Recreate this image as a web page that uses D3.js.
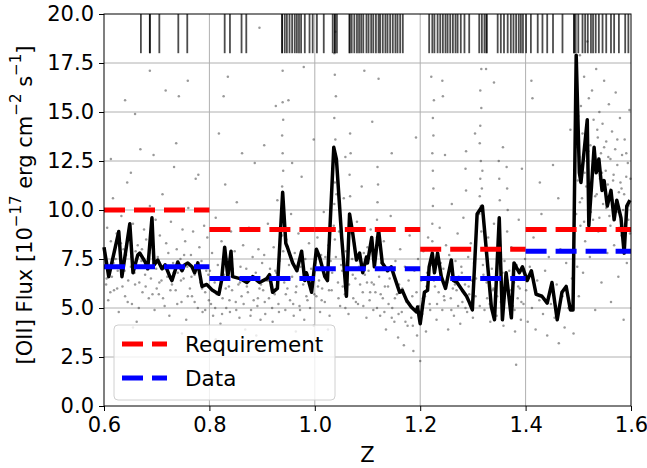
<!DOCTYPE html>
<html>
<head>
<meta charset="utf-8">
<script src="https://cdn.jsdelivr.net/npm/d3@7"></script>
<style>
  body { margin: 0; background: #fff; }
  text { font-family: "DejaVu Sans", sans-serif; fill: #000; }
</style>
</head>
<body>
<div id="graph"></div>
<script>
var xTicks = [0.6, 0.8, 1.0, 1.2, 1.4, 1.6]
var yTicks = [0, 2.5, 5, 7.5, 10, 12.5, 15, 17.5, 20]

var binEdges = [0.6, 0.8, 1.0, 1.2, 1.4, 1.6]
var requirement = [10.0, 9.0, 9.0, 8.0, 9.0]
var dataLevel = [7.1, 6.5, 7.0, 6.5, 7.9]

// running median of the flux
var medianLine = [[0.600,8.1],[0.609,6.6],[0.628,8.9],[0.634,6.6],[0.649,9.3],[0.655,6.8],[0.664,7.7],[0.668,7.8],[0.678,7.35],[0.683,7.0],[0.691,9.6],[0.695,7.2],[0.702,7.45],[0.710,7.0],[0.716,7.2],[0.725,6.6],[0.729,6.4],[0.740,7.35],[0.748,6.9],[0.753,7.2],[0.759,7.3],[0.767,7.1],[0.772,6.8],[0.778,7.3],[0.786,6.1],[0.795,6.2],[0.806,5.9],[0.818,5.7],[0.823,6.4],[0.829,8.1],[0.835,6.6],[0.841,7.9],[0.844,6.6],[0.858,6.5],[0.871,6.3],[0.882,6.6],[0.895,6.3],[0.909,6.5],[0.914,6.7],[0.920,5.8],[0.929,6.0],[0.939,10.9],[0.945,8.3],[0.948,8.1],[0.958,7.3],[0.966,6.9],[0.975,7.9],[0.981,6.4],[0.984,6.8],[0.994,5.8],[1.003,8.0],[1.009,7.6],[1.019,6.6],[1.024,6.4],[1.036,13.2],[1.041,12.6],[1.051,8.6],[1.060,5.6],[1.066,9.8],[1.072,8.8],[1.079,7.45],[1.085,7.8],[1.091,6.8],[1.098,7.6],[1.100,7.3],[1.108,8.6],[1.113,7.1],[1.121,9.0],[1.128,7.3],[1.138,6.9],[1.145,7.1],[1.151,6.6],[1.161,5.8],[1.166,5.9],[1.174,5.4],[1.183,5.05],[1.193,4.8],[1.195,5.05],[1.200,4.2],[1.208,5.8],[1.214,5.9],[1.217,7.1],[1.223,7.8],[1.227,6.8],[1.233,7.8],[1.240,6.6],[1.248,6.0],[1.259,7.45],[1.263,6.4],[1.270,6.3],[1.280,5.9],[1.288,5.6],[1.293,5.3],[1.299,4.9],[1.308,9.8],[1.318,10.2],[1.325,8.1],[1.335,5.05],[1.341,4.4],[1.350,9.6],[1.356,4.4],[1.363,6.8],[1.373,4.5],[1.378,7.3],[1.388,6.8],[1.394,7.1],[1.403,6.4],[1.411,6.9],[1.420,5.7],[1.431,5.6],[1.441,5.25],[1.450,6.3],[1.460,4.4],[1.469,5.8],[1.477,6.1],[1.485,4.9],[1.490,4.9],[1.496,17.9],[1.502,11.9],[1.505,11.4],[1.517,14.6],[1.520,9.2],[1.530,13.2],[1.534,11.9],[1.539,12.6],[1.545,11.0],[1.549,11.5],[1.555,10.2],[1.562,11.0],[1.568,9.5],[1.573,10.5],[1.581,9.6],[1.587,7.8],[1.592,10.2],[1.598,10.5]]

// redshifts of the individual spectra (rug along the top)
var rugZ = [0.670,0.687,0.687,0.705,0.741,0.758,0.829,0.839,0.861,0.870,0.938,0.938,0.943,0.947,0.952,0.957,0.962,0.966,0.970,0.974,0.981,0.990,0.996,1.004,1.017,1.034,1.038,1.038,1.042,1.066,1.066,1.070,1.075,1.080,1.084,1.088,1.092,1.098,1.102,1.107,1.111,1.116,1.121,1.124,1.129,1.134,1.138,1.143,1.148,1.153,1.157,1.162,1.167,1.217,1.223,1.227,1.233,1.238,1.243,1.248,1.252,1.257,1.262,1.267,1.271,1.277,1.284,1.293,1.312,1.317,1.322,1.326,1.326,1.347,1.353,1.359,1.366,1.372,1.377,1.382,1.387,1.391,1.395,1.401,1.410,1.423,1.432,1.441,1.452,1.470,1.492,1.492,1.495,1.500,1.508,1.513,1.518,1.524,1.528,1.533,1.539,1.546,1.553,1.562,1.568,1.577,1.589,1.595]

// individual emission line fluxes, grouped by redshift range
var points06 = [[0.602,7.8],[0.604,6.2],[0.606,9.1],[0.608,5.4],[0.611,7.0],[0.613,8.4],[0.615,6.6],[0.617,10.6],[0.619,5.9],[0.622,7.5],[0.624,8.8],[0.626,6.9],[0.628,4.8],[0.631,7.2],[0.633,9.7],[0.635,6.1],[0.637,8.0],[0.640,5.6],[0.642,7.7],[0.644,11.4],[0.646,6.4],[0.649,8.6],[0.651,7.1],[0.653,5.2],[0.655,9.3],[0.658,6.8],[0.660,7.9],[0.662,4.3],[0.664,8.2],[0.667,6.3],[0.669,13.1],[0.671,7.4],[0.673,5.8],[0.676,9.0],[0.678,6.7],[0.680,8.5],[0.682,7.0],[0.685,5.5],[0.687,10.2],[0.689,6.5],[0.691,8.1],[0.694,7.3],[0.696,4.9],[0.698,9.5],[0.700,6.0]]
var points07 = [[0.702,7.6],[0.704,5.7],[0.706,8.7],[0.709,6.4],[0.711,10.8],[0.713,7.0],[0.715,5.1],[0.718,8.3],[0.720,6.6],[0.722,7.8],[0.724,4.6],[0.727,9.4],[0.729,6.2],[0.731,7.3],[0.733,12.2],[0.736,5.9],[0.738,8.0],[0.740,6.8],[0.742,15.8],[0.745,7.5],[0.747,5.3],[0.749,9.0],[0.751,6.5],[0.754,8.4],[0.756,4.4],[0.758,7.1],[0.760,10.1],[0.763,6.0],[0.765,7.7],[0.767,5.6],[0.769,8.9],[0.772,6.7],[0.774,11.6],[0.776,7.2],[0.778,5.0],[0.781,8.1],[0.783,6.3],[0.785,7.4],[0.787,4.8],[0.790,9.2],[0.792,5.8],[0.794,6.9],[0.796,8.6],[0.799,5.4]]
var points08 = [[0.801,6.9],[0.803,5.2],[0.805,7.8],[0.807,4.6],[0.810,6.3],[0.812,9.6],[0.814,5.7],[0.816,7.2],[0.819,6.0],[0.821,4.2],[0.823,8.4],[0.825,5.5],[0.828,6.7],[0.830,11.3],[0.832,5.0],[0.834,7.5],[0.837,6.1],[0.839,4.8],[0.841,8.9],[0.843,5.9],[0.846,6.6],[0.848,7.9],[0.850,5.3],[0.852,10.4],[0.855,6.2],[0.857,4.5],[0.859,7.1],[0.861,5.6],[0.864,8.2],[0.866,6.4],[0.868,3.9],[0.870,7.0],[0.873,5.8],[0.875,9.1],[0.877,6.5],[0.879,4.9],[0.882,7.6],[0.884,5.4],[0.886,12.4],[0.888,6.8],[0.891,5.1],[0.893,8.0],[0.895,6.0],[0.897,4.4],[0.900,7.3]]
var points09 = [[0.902,5.9],[0.904,7.7],[0.906,4.7],[0.909,6.4],[0.911,9.3],[0.913,5.5],[0.915,7.0],[0.918,6.1],[0.920,4.3],[0.922,8.1],[0.924,5.7],[0.927,6.8],[0.929,10.5],[0.931,5.2],[0.933,7.4],[0.938,9.5],[0.939,10.4],[0.938,11.2],[0.940,12.0],[0.939,12.9],[0.938,13.8],[0.940,14.6],[0.939,15.5],[0.938,8.7],[0.940,7.9],[0.942,6.3],[0.944,4.9],[0.946,8.5],[0.948,6.0],[0.951,7.2],[0.953,5.4],[0.955,9.8],[0.957,6.6],[0.960,4.6],[0.962,7.8],[0.964,5.8],[0.966,6.9],[0.969,8.8],[0.971,5.1],[0.973,7.1],[0.975,11.7],[0.978,6.2],[0.980,4.4],[0.982,7.5],[0.984,5.6],[0.987,6.7],[0.989,8.3],[0.991,5.0],[0.993,7.0],[0.996,6.1],[0.998,4.1]]
var points10 = [[1.001,7.3],[1.003,5.6],[1.005,8.6],[1.008,6.4],[1.010,4.8],[1.012,7.7],[1.014,6.0],[1.017,9.9],[1.019,5.3],[1.021,7.0],[1.023,6.6],[1.026,8.2],[1.028,4.6],[1.030,7.4],[1.032,5.9],[1.036,9.2],[1.037,10.3],[1.038,11.4],[1.036,12.5],[1.039,13.6],[1.037,14.7],[1.040,15.8],[1.038,16.9],[1.037,18.0],[1.039,19.1],[1.038,8.5],[1.040,7.6],[1.041,10.8],[1.036,13.1],[1.044,6.3],[1.046,8.9],[1.048,5.1],[1.050,7.2],[1.053,6.1],[1.055,10.6],[1.057,5.7],[1.059,7.9],[1.062,6.8],[1.064,4.7],[1.066,9.6],[1.067,10.7],[1.066,11.8],[1.068,12.9],[1.067,13.9],[1.066,8.8],[1.071,7.5],[1.073,5.5],[1.075,8.3],[1.077,6.5],[1.080,9.4],[1.082,5.2],[1.084,7.1],[1.086,6.2],[1.089,11.2],[1.091,5.8],[1.093,7.8],[1.095,6.7],[1.098,4.5],[1.100,8.1]]
var points11 = [[1.102,6.9],[1.104,5.4],[1.106,9.0],[1.108,6.3],[1.111,4.9],[1.113,7.6],[1.115,5.8],[1.118,9.5],[1.119,10.4],[1.120,11.3],[1.119,12.2],[1.118,8.6],[1.122,6.6],[1.124,4.6],[1.126,7.3],[1.129,5.5],[1.131,8.4],[1.133,6.1],[1.135,3.9],[1.138,7.0],[1.140,5.2],[1.142,6.5],[1.144,9.7],[1.147,5.0],[1.149,6.8],[1.151,4.3],[1.153,7.4],[1.156,5.7],[1.158,3.5],[1.160,6.2],[1.162,8.0],[1.165,4.8],[1.167,5.9],[1.169,3.1],[1.171,7.1],[1.174,5.3],[1.176,4.1],[1.178,6.4],[1.180,8.7],[1.183,4.5],[1.185,5.6],[1.187,2.8],[1.189,6.9],[1.192,4.9],[1.194,3.6],[1.196,7.5],[1.198,5.1],[1.200,2.3]]
var points12 = [[1.202,6.4],[1.204,4.7],[1.206,7.9],[1.209,5.6],[1.211,3.8],[1.213,6.8],[1.215,8.6],[1.218,5.2],[1.220,7.2],[1.223,9.3],[1.224,10.2],[1.225,11.1],[1.224,12.0],[1.223,12.9],[1.225,13.8],[1.224,14.7],[1.226,15.6],[1.223,8.4],[1.228,6.1],[1.231,4.4],[1.233,7.5],[1.235,5.8],[1.237,9.1],[1.240,6.5],[1.242,4.9],[1.244,7.0],[1.246,5.4],[1.249,8.2],[1.251,6.3],[1.253,3.9],[1.255,7.7],[1.258,5.5],[1.260,10.3],[1.262,6.0],[1.264,4.6],[1.267,7.4],[1.269,5.9],[1.271,8.8],[1.273,6.6],[1.276,4.2],[1.278,7.1],[1.280,5.3],[1.282,9.6],[1.285,6.2],[1.287,11.0],[1.286,12.1],[1.287,13.0],[1.289,4.8],[1.291,7.6],[1.293,5.7],[1.296,8.3],[1.298,6.4]]
var points13 = [[1.300,4.5],[1.302,7.3],[1.305,5.6],[1.307,9.0],[1.312,9.8],[1.313,10.7],[1.314,11.6],[1.315,12.5],[1.313,13.4],[1.314,14.3],[1.316,15.2],[1.315,10.2],[1.317,11.1],[1.318,12.0],[1.316,8.9],[1.314,16.1],[1.320,6.7],[1.322,4.9],[1.325,7.8],[1.327,5.5],[1.329,8.6],[1.331,6.1],[1.333,4.3],[1.336,7.0],[1.338,5.9],[1.340,9.3],[1.342,6.5],[1.345,4.6],[1.347,7.6],[1.350,9.4],[1.351,10.5],[1.350,11.6],[1.349,12.5],[1.353,5.3],[1.356,6.8],[1.358,4.1],[1.360,7.4],[1.365,8.9],[1.366,10.0],[1.365,11.1],[1.364,12.2],[1.367,5.7],[1.369,6.9],[1.371,4.7],[1.373,8.1],[1.376,5.1],[1.378,6.3],[1.380,3.8],[1.382,2.1],[1.383,7.2],[1.385,5.5],[1.387,9.5],[1.389,6.0],[1.391,4.4],[1.394,7.0],[1.396,5.2],[1.398,6.6]]
var points14 = [[1.401,5.9],[1.404,4.3],[1.408,7.1],[1.412,5.0],[1.415,8.6],[1.419,3.9],[1.422,6.4],[1.426,5.4],[1.430,9.8],[1.433,4.7],[1.437,6.9],[1.441,3.6],[1.444,7.6],[1.448,5.2],[1.452,12.3],[1.455,4.5],[1.459,6.2],[1.463,3.2],[1.466,8.0],[1.470,5.6],[1.474,4.0],[1.477,7.3],[1.481,5.0],[1.485,14.1],[1.488,6.5],[1.491,3.7]]
var points15 = [[1.495,13.2],[1.496,9.8],[1.497,16.4],[1.498,7.1],[1.499,11.5],[1.500,14.8],[1.501,5.6],[1.502,12.7],[1.503,17.9],[1.504,9.2],[1.505,15.3],[1.507,10.6],[1.508,13.9],[1.509,6.8],[1.511,16.8],[1.512,11.9],[1.513,8.4],[1.515,14.2],[1.516,12.5],[1.517,18.6],[1.519,10.1],[1.520,15.7],[1.522,7.6],[1.523,13.3],[1.525,11.0],[1.526,16.1],[1.528,9.5],[1.529,14.6],[1.531,12.2],[1.532,4.9],[1.534,17.2],[1.535,10.8],[1.537,13.7],[1.538,8.9],[1.540,15.0],[1.541,11.6],[1.543,12.9],[1.544,6.3],[1.546,14.4],[1.547,10.3],[1.549,16.6],[1.550,9.0],[1.552,12.0],[1.553,13.5],[1.555,7.8],[1.556,11.3],[1.558,15.4],[1.559,9.7],[1.561,12.6],[1.562,5.3],[1.564,14.0],[1.565,10.5],[1.567,11.8],[1.568,8.2],[1.570,13.1],[1.571,16.0],[1.573,9.9],[1.574,12.3],[1.576,6.6],[1.577,10.9],[1.579,14.7],[1.580,11.4],[1.582,8.7],[1.583,12.8],[1.585,10.0],[1.586,4.4],[1.588,13.6],[1.589,9.3],[1.591,11.7],[1.592,7.3],[1.594,12.4],[1.595,10.2],[1.597,15.1],[1.598,8.8]]
var pointsCore = [[0.605,6.5],[0.612,5.8],[0.618,7.3],[0.625,6.0],[0.632,8.3],[0.639,6.9],[0.645,5.3],[0.652,7.6],[0.659,6.2],[0.666,5.0],[0.672,8.0],[0.679,6.1],[0.686,7.8],[0.692,5.7],[0.699,7.0],[0.705,6.3],[0.712,5.5],[0.719,7.1],[0.726,5.9],[0.732,6.8],[0.739,5.2],[0.746,6.4],[0.752,7.7],[0.759,5.6],[0.766,6.6],[0.772,5.3],[0.779,7.0],[0.786,6.0],[0.792,4.9],[0.798,6.7],[0.804,5.9],[0.811,5.0],[0.817,6.5],[0.824,4.7],[0.831,6.0],[0.838,5.4],[0.844,7.0],[0.851,4.9],[0.858,6.3],[0.865,5.2],[0.871,6.1],[0.878,4.6],[0.885,6.6],[0.892,5.5],[0.898,6.2],[0.905,5.3],[0.912,6.4],[0.919,5.0],[0.925,6.9],[0.932,4.8],[0.945,5.7],[0.952,6.5],[0.959,5.2],[0.965,6.1],[0.972,4.9],[0.979,6.8],[0.986,5.4],[0.992,6.3],[0.999,5.7],[1.006,6.1],[1.013,5.4],[1.020,7.6],[1.027,5.9],[1.033,6.8],[1.045,5.5],[1.052,6.9],[1.058,5.0],[1.065,6.2],[1.072,6.7],[1.078,5.3],[1.085,7.4],[1.092,5.1],[1.099,6.3],[1.105,5.8],[1.112,6.2],[1.118,5.0],[1.125,5.7],[1.132,4.8],[1.139,6.1],[1.146,4.5],[1.152,5.5],[1.159,4.7],[1.166,6.0],[1.172,4.3],[1.179,5.2],[1.186,4.1],[1.193,5.8],[1.199,4.4],[1.205,5.5],[1.212,6.1],[1.219,4.9],[1.226,6.4],[1.232,5.2],[1.239,7.3],[1.245,5.6],[1.252,6.6],[1.259,4.9],[1.266,6.2],[1.272,5.1],[1.279,6.8],[1.286,5.0],[1.292,6.1],[1.299,5.4],[1.306,6.5],[1.313,5.1],[1.319,7.2],[1.326,6.3],[1.332,5.2],[1.339,6.0],[1.346,5.6],[1.352,7.0],[1.359,5.5],[1.366,6.4],[1.372,5.9],[1.379,4.9],[1.386,6.1],[1.392,5.3],[1.399,7.5],[1.503,10.4],[1.507,12.1],[1.511,9.4],[1.515,11.2],[1.519,13.0],[1.524,9.9],[1.528,12.3],[1.532,10.7],[1.536,14.1],[1.540,9.6],[1.545,11.9],[1.549,13.2],[1.553,10.1],[1.557,12.7],[1.561,9.2],[1.566,11.5],[1.570,10.3],[1.574,13.6],[1.578,9.1],[1.582,11.1],[1.587,10.8],[1.591,12.9],[1.595,9.5],[1.599,11.6]]
var pointsSparse = [[0.613,12.6],[0.651,11.9],[0.694,12.8],[0.737,13.4],[0.779,11.8],[0.818,13.9],[0.862,12.9],[0.904,13.3],[0.957,12.4],[0.998,13.6],[1.058,12.7],[1.109,14.5],[1.146,12.9],[1.192,13.7],[1.247,12.8],[1.304,13.9],[1.357,13.2],[1.393,12.1],[1.427,11.4],[1.462,10.6],[0.687,17.1],[0.717,16.1],[0.759,16.6],[0.640,15.6],[0.659,14.9],[0.835,16.8],[0.827,15.8],[0.895,19.3],[0.939,17.1],[0.979,17.3],[0.926,15.3],[0.950,15.6],[1.094,17.1],[1.316,17.2],[1.325,17.2],[1.242,16.6],[1.243,15.8],[1.411,16.6],[1.413,15.7],[1.121,16.7],[1.221,16.8],[1.340,16.5],[0.655,4.0],[0.748,3.7],[0.812,3.4],[0.889,3.6],[0.964,3.8],[1.025,3.9]]

var allPoints = [].concat(points06, points07, points08, points09, points10, points11, points12, points13, points14, points15, pointsCore, pointsSparse)

var width = 647, height = 468
var margin = {left: 104, right: 16, top: 14, bottom: 62}

var svg = d3.select('#graph').append('svg')
  .attr('width', width).attr('height', height)

var x = d3.scaleLinear().domain([0.6, 1.6]).range([margin.left, width - margin.right])
var y = d3.scaleLinear().domain([0, 20]).range([height - margin.bottom, margin.top])

var fmt = d3.format('.1f')

// grid
svg.append('g').selectAll('line').data(xTicks.slice(1, -1)).join('line')
  .attr('x1', d => x(d)).attr('x2', d => x(d))
  .attr('y1', y(0)).attr('y2', y(20))
  .attr('stroke', '#b0b0b0').attr('stroke-width', 1)
svg.append('g').selectAll('line').data(yTicks.slice(1, -1)).join('line')
  .attr('x1', x(0.6)).attr('x2', x(1.6))
  .attr('y1', d => y(d)).attr('y2', d => y(d))
  .attr('stroke', '#b0b0b0').attr('stroke-width', 1)

// scatter of individual objects
svg.append('g').selectAll('circle').data(allPoints).join('circle')
  .attr('cx', d => x(d[0])).attr('cy', d => y(d[1]))
  .attr('r', 1.25)
  .attr('fill', '#333').attr('fill-opacity', 0.5)

// rug
svg.append('g').selectAll('line').data(rugZ).join('line')
  .attr('x1', d => x(d)).attr('x2', d => x(d))
  .attr('y1', y(20)).attr('y2', y(18))
  .attr('stroke', '#000').attr('stroke-opacity', 0.7).attr('stroke-width', 1.8)

// running median
svg.append('path').datum(medianLine)
  .attr('d', d3.line().x(d => x(d[0])).y(d => y(d[1])))
  .attr('fill', 'none').attr('stroke', '#000').attr('stroke-width', 3.5)
  .attr('stroke-linejoin', 'round')

// requirement and data levels per bin
function steps(levels, color){
  svg.append('g').selectAll('line').data(levels).join('line')
    .attr('x1', (d, i) => x(binEdges[i])).attr('x2', (d, i) => x(binEdges[i + 1]))
    .attr('y1', d => y(d)).attr('y2', d => y(d))
    .attr('stroke', color).attr('stroke-width', 5)
    .attr('stroke-dasharray', '21,9')
}
steps(requirement, '#ff0000')
steps(dataLevel, '#0000ff')

// frame
svg.append('rect')
  .attr('x', x(0.6)).attr('y', y(20))
  .attr('width', x(1.6) - x(0.6)).attr('height', y(0) - y(20))
  .attr('fill', 'none').attr('stroke', '#000').attr('stroke-width', 1)

// axes
var xAxis = svg.append('g').attr('transform', `translate(0,${y(0)})`)
  .call(d3.axisBottom(x).tickValues(xTicks).tickFormat(fmt).tickSize(5).tickPadding(6))
var yAxis = svg.append('g').attr('transform', `translate(${x(0.6)},0)`)
  .call(d3.axisLeft(y).tickValues(yTicks).tickFormat(fmt).tickSize(5).tickPadding(5))
;[xAxis, yAxis].forEach(a => {
  a.select('.domain').remove()
  a.selectAll('text').attr('font-size', 21).attr('font-family', 'DejaVu Sans').attr('fill', '#000')
})

svg.append('text')
  .attr('x', x(1.1)).attr('y', 462)
  .attr('text-anchor', 'middle').attr('font-size', 21)
  .text('Z')

var yl = svg.append('text')
  .attr('transform', 'translate(32,205) rotate(-90)')
  .attr('text-anchor', 'middle').attr('font-size', 21)
yl.append('tspan').text('[OII] Flux [10')
yl.append('tspan').attr('dy', -11).attr('font-size', 15).text('\u221217')
yl.append('tspan').attr('dy', 11).text(' erg cm')
yl.append('tspan').attr('dy', -11).attr('font-size', 15).text('\u22122')
yl.append('tspan').attr('dy', 11).text(' s')
yl.append('tspan').attr('dy', -11).attr('font-size', 15).text('\u22121')
yl.append('tspan').attr('dy', 11).text(']')

// legend
var legend = svg.append('g')
legend.append('rect')
  .attr('x', 114).attr('y', 325).attr('width', 221).attr('height', 75).attr('rx', 4)
  .attr('fill', '#fff').attr('fill-opacity', 0.8)
  .attr('stroke', '#d0d0d0').attr('stroke-width', 1)
var legendItems = [['Requirement', '#ff0000'], ['Data', '#0000ff']]
legend.selectAll('line').data(legendItems).join('line')
  .attr('x1', 122).attr('x2', 167)
  .attr('y1', (d, i) => 344 + i * 34).attr('y2', (d, i) => 344 + i * 34)
  .attr('stroke', d => d[1]).attr('stroke-width', 5).attr('stroke-dasharray', '21,9')
legend.selectAll('text').data(legendItems).join('text')
  .attr('x', 185).attr('y', (d, i) => 352 + i * 34)
  .attr('font-size', 21.5)
  .text(d => d[0])
</script>
</body>
</html>
